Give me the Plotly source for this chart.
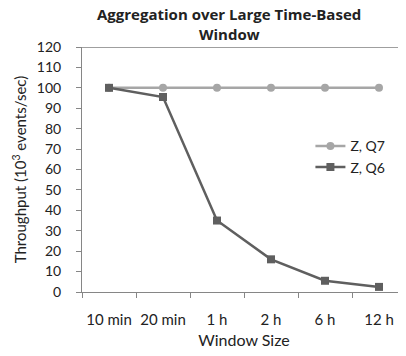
import plotly.graph_objects as go

categories = ["10 min", "20 min", "1 h", "2 h", "6 h", "12 h"]
q7_values = [100, 100, 100, 100, 100, 100]
q6_values = [100, 95.5, 35, 16, 5.5, 2.5]
y_ticks = [0, 10, 20, 30, 40, 50, 60, 70, 80, 90, 100, 110, 120]
title_lines = ["Aggregation over Large Time-Based", "Window"]

font_family = "Lato, Open Sans, Liberation Sans, sans-serif"
title_family = "Open Sans, Lato, sans-serif"
axis_color = "#868686"
text_color = "#222222"

fig = go.Figure()
fig.add_trace(go.Scatter(
    x=categories, y=q7_values, name="Z, Q7", mode="lines+markers",
    line=dict(color="#A6A6A6", width=2.5),
    marker=dict(symbol="circle", size=8, color="#A6A6A6"),
))
fig.add_trace(go.Scatter(
    x=categories, y=q6_values, name="Z, Q6", mode="lines+markers",
    line=dict(color="#5F5F5F", width=2.5),
    marker=dict(symbol="square", size=8, color="#5F5F5F"),
))

# page body adds an 8px margin, so the figure is 8px smaller than the window
fig.update_layout(
    width=398, height=348,
    margin=dict(l=74, r=0, t=39, b=64, autoexpand=False),
    paper_bgcolor="white", plot_bgcolor="white",
    font=dict(family=font_family, size=14, color=text_color),
    showlegend=True,
    legend=dict(
        x=0.705, y=0.66, xanchor="left", yanchor="top",
        bgcolor="rgba(0,0,0,0)", font=dict(size=14),
        tracegroupgap=0,
    ),
    xaxis=dict(
        type="category", range=[-0.5, 5.5], automargin=False,
        showline=True, linecolor=axis_color, linewidth=1,
        ticks="outside", tickson="boundaries", ticklen=5, tickcolor=axis_color,
        showgrid=False, zeroline=False,
        tickfont=dict(size=15), tickangle=0,
        ticklabelstandoff=14,
        title=dict(text="Window Size", standoff=7, font=dict(size=16)),
    ),
    yaxis=dict(
        range=[0, 120], tickvals=y_ticks, automargin=False,
        showline=True, linecolor=axis_color, linewidth=1,
        ticks="outside", ticklen=5, tickcolor=axis_color,
        showgrid=False, zeroline=False,
        ticklabelstandoff=12,
        title=dict(text="Throughput (10<sup>3</sup> events/sec)", standoff=6, font=dict(size=15)),
    ),
    annotations=[
        dict(text="<b>" + title_lines[0] + "</b>", xref="paper", yref="paper",
             x=0.454, y=1, xanchor="center", yanchor="bottom", yshift=22, borderpad=0,
             showarrow=False, font=dict(family=title_family, size=15, color=text_color)),
        dict(text="<b>" + title_lines[1] + "</b>", xref="paper", yref="paper",
             x=0.454, y=1, xanchor="center", yanchor="bottom", yshift=2, borderpad=0,
             showarrow=False, font=dict(family=title_family, size=15, color=text_color)),
    ],
)
fig.add_shape(type="line", xref="paper", yref="y", x0=0, x1=1, y0=120, y1=120,
              line=dict(color="#404040", width=1))

fig.write_html("out.html")
